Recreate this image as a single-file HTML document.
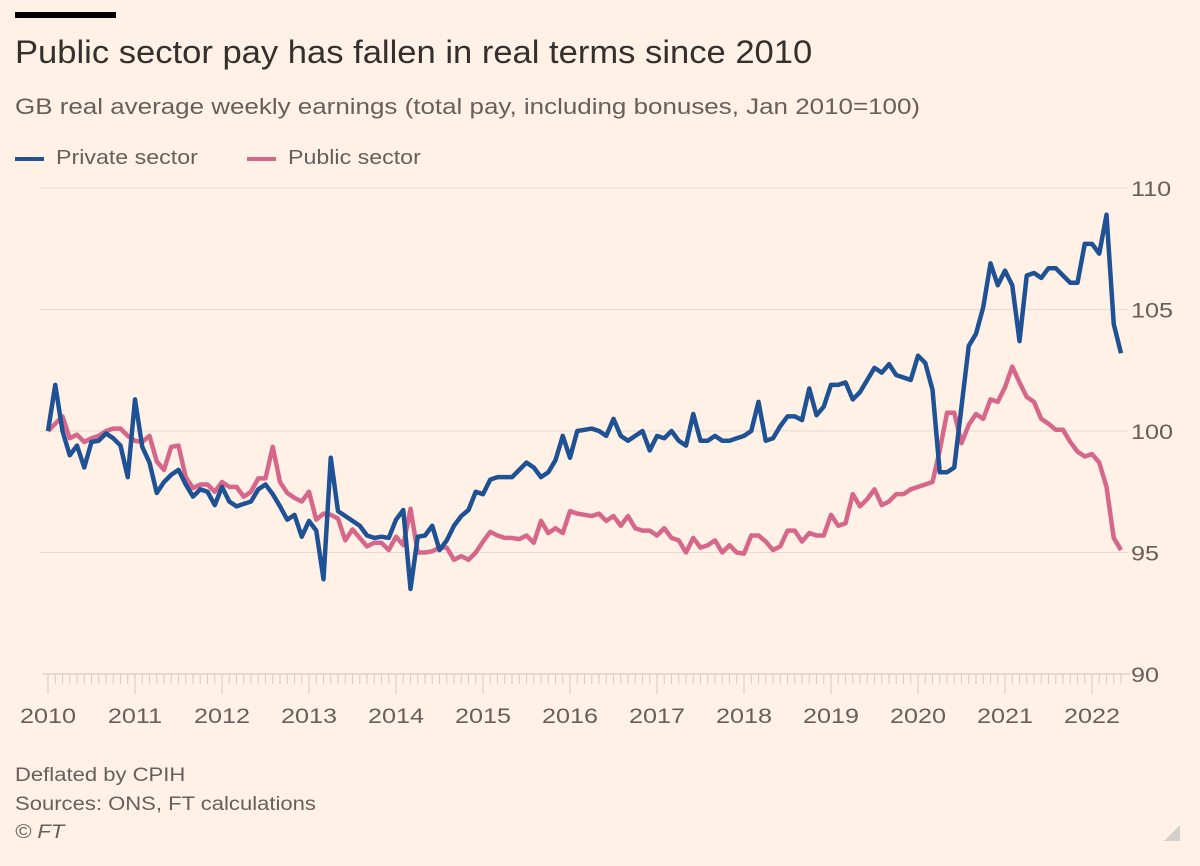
<!DOCTYPE html>
<html><head><meta charset="utf-8">
<style>
body{margin:0;background:#fff1e5;font-family:"Liberation Sans",sans-serif;}
#wrap{position:relative;width:1200px;height:866px;overflow:hidden;background:#fff1e5;}
.t{position:absolute;white-space:nowrap;transform-origin:0 0;}
</style></head><body>
<div id="wrap">
<div style="position:absolute;left:15px;top:12px;width:101px;height:6px;background:#000"></div>
<div class="t" style="left:15px;top:34px;font-size:32px;color:#33302e;transform:scaleX(1.08)">Public sector pay has fallen in real terms since 2010</div>
<div class="t" style="left:15px;top:94px;font-size:22px;color:#66605c;transform:scaleX(1.18)">GB real average weekly earnings (total pay, including bonuses, Jan 2010=100)</div>
<div>
<div style="position:absolute;left:15px;top:157px;width:29px;height:4px;background:#1f5294"></div>
<div class="t" style="left:56px;top:147px;font-size:20px;color:#66605c;transform:scaleX(1.16)">Private sector</div>
<div style="position:absolute;left:247px;top:157px;width:29px;height:4px;background:#d6678b"></div>
<div class="t" style="left:288px;top:147px;font-size:20px;color:#66605c;transform:scaleX(1.16)">Public sector</div>
</div>
<svg id="chart" width="1200" height="866" style="position:absolute;left:0;top:0"></svg>
<div class="t" style="left:15px;top:765px;font-size:19px;color:#66605c;transform:scaleX(1.16)">Deflated by CPIH</div>
<div class="t" style="left:15px;top:794px;font-size:19px;color:#66605c;transform:scaleX(1.16)">Sources: ONS, FT calculations</div>
<div class="t" style="left:15px;top:822px;font-size:19px;color:#66605c;font-style:italic;transform:scaleX(1.16)">© FT</div>
<svg width="20" height="20" style="position:absolute;left:1162px;top:823px"><polygon points="18,2 18,18 2,18" fill="#d3d0cc"/></svg>
</div>
<script>
const startYear = 2010;
const yTicks = [90, 95, 100, 105, 110];
const yearLabels = ["2010","2011","2012","2013","2014","2015","2016","2017","2018","2019","2020","2021","2022"];
const privateSector = [
100.0,101.9,100.0,99.0,99.4,98.5,99.55,99.6,99.9,99.7,99.4,98.1,
101.3,99.35,98.7,97.45,97.9,98.2,98.4,97.8,97.3,97.6,97.5,96.95,
97.7,97.1,96.9,97.0,97.1,97.6,97.8,97.4,96.9,96.35,96.55,95.65,
96.3,95.9,93.9,98.9,96.7,96.5,96.3,96.1,95.7,95.6,95.65,95.6,
96.35,96.75,93.5,95.65,95.7,96.1,95.1,95.5,96.1,96.5,96.75,97.5,
97.4,98.0,98.1,98.1,98.1,98.4,98.7,98.5,98.1,98.3,98.8,99.8,
98.9,100.0,100.05,100.1,100.0,99.8,100.5,99.8,99.6,99.8,100.0,99.2,99.8,
99.7,100.0,99.6,99.4,100.7,99.6,99.6,99.8,99.6,99.6,99.7,99.8,
100.0,101.2,99.6,99.7,100.2,100.6,100.6,100.45,101.75,100.65,101.0,101.9,
101.9,102.0,101.3,101.6,102.1,102.6,102.4,102.75,102.3,102.2,102.1,103.1,
102.8,101.7,98.3,98.3,98.5,101.0,103.5,104.0,105.1,106.9,106.0,106.6,
106.0,103.7,106.4,106.5,106.3,106.7,106.7,106.4,106.1,106.1,107.7,107.7,
107.3,108.9,104.4,103.2];
const publicSector = [
100.0,100.3,100.6,99.7,99.85,99.55,99.7,99.8,100.0,100.1,100.1,99.8,
99.6,99.55,99.8,98.75,98.4,99.35,99.4,98.1,97.65,97.8,97.8,97.5,
97.9,97.7,97.7,97.3,97.5,98.05,98.05,99.35,97.9,97.45,97.25,97.1,
97.5,96.35,96.6,96.55,96.4,95.5,95.95,95.6,95.25,95.4,95.4,95.1,
95.65,95.3,96.8,95.0,95.0,95.05,95.2,95.2,94.7,94.85,94.7,95.0,
95.45,95.85,95.7,95.6,95.6,95.55,95.7,95.4,96.3,95.8,96.0,95.8,
96.7,96.6,96.55,96.5,96.6,96.3,96.5,96.1,96.5,96.0,95.9,95.9,95.7,
96.0,95.6,95.5,95.0,95.6,95.2,95.3,95.5,95.0,95.3,95.0,94.95,
95.7,95.7,95.45,95.1,95.25,95.9,95.9,95.45,95.8,95.7,95.7,96.55,
96.1,96.2,97.4,96.9,97.2,97.6,96.95,97.1,97.4,97.4,97.6,97.7,
97.8,97.9,99.2,100.75,100.75,99.5,100.25,100.7,100.5,101.3,101.2,101.8,
102.65,102.0,101.4,101.2,100.5,100.3,100.05,100.05,99.55,99.15,98.95,99.05,
98.7,97.7,95.6,95.1];

const NS = "http://www.w3.org/2000/svg";
const svg = document.getElementById('chart');
const X0 = 48, YEARW = 87, YMIN = 90, YMAX = 110, YTOP = 188, YBOT = 674;
function xMonth(m){ return X0 + m * YEARW / 12; }
function yVal(v){ return YBOT - (v - YMIN) / (YMAX - YMIN) * (YBOT - YTOP); }
function mk(tag, attrs){ const e = document.createElementNS(NS, tag); for (const k in attrs) e.setAttribute(k, attrs[k]); svg.appendChild(e); return e; }

yTicks.forEach(v => {
  if (v !== YMIN) {
    const g = mk('line', {x1:40, x2:1128, y1:yVal(v), y2:yVal(v), stroke:'#e6dbd2', 'stroke-width':1});
    
    
  }
  const t = mk('text', {x:0, y:0, transform:'translate(1131,' + (yVal(v)+8) + ') scale(1.2,1)', 'font-size':21, fill:'#66605c', 'font-family':'Liberation Sans, sans-serif'});
  t.textContent = v;
  
  
});
const ax = mk('line', {x1:42, x2:1130, y1:YBOT, y2:YBOT, stroke:'#ccc1b7', 'stroke-width':1});


for (let m = 0; m <= 160; m++) {
  const isYear = m % 12 === 0;
  if (xMonth(m) > 1124) break;
  const tk = mk('line', {x1:xMonth(m), x2:xMonth(m), y1:YBOT, y2:YBOT + (isYear ? 20 : 10), stroke:'#d6ccc2', 'stroke-width':1});
  
  
}
yearLabels.forEach((lab, i) => {
  const t = mk('text', {x:0, y:0, transform:'translate(' + xMonth(i*12) + ',723) scale(1.2,1)', 'font-size':21, fill:'#66605c', 'text-anchor':'middle', 'font-family':'Liberation Sans, sans-serif'});
  t.textContent = lab;
  
  
});
function series(vals, color, name){
  const d = vals.map((v,i) => (i ? 'L' : 'M') + xMonth(i).toFixed(2) + ',' + yVal(v).toFixed(2)).join(' ');
  const p = mk('path', {d:d, fill:'none', stroke:color, 'stroke-width':4.5, 'stroke-linejoin':'round', 'stroke-linecap':'butt'});
  
  
}
series(publicSector, '#d6678b', 'public-sector-line');
series(privateSector, '#1f5294', 'private-sector-line');
</script>
</body></html>
